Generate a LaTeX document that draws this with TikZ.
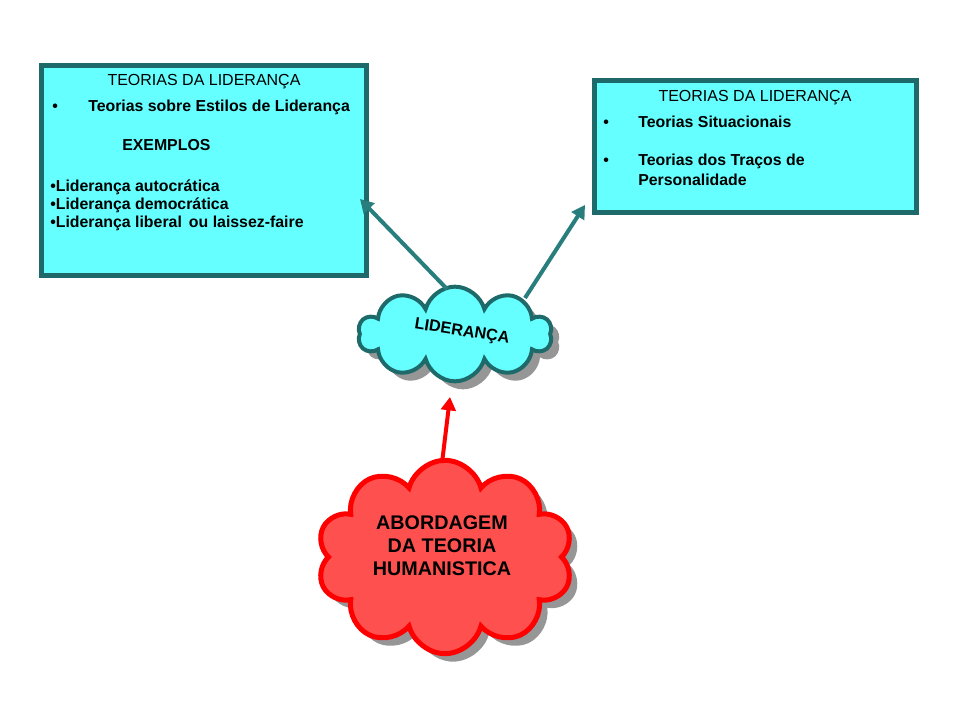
\documentclass[tikz,border=0pt]{standalone}
\usepackage{fontspec}
\setmainfont{Liberation Sans}
\usetikzlibrary{shapes.symbols,shadows,arrows.meta}
\definecolor{tealb}{RGB}{30,105,105}
\definecolor{tealarrow}{RGB}{40,125,125}
\definecolor{cyanfill}{RGB}{102,255,255}
\definecolor{redfill}{RGB}{255,80,80}
\definecolor{redline}{RGB}{255,0,0}
\definecolor{shadowgray}{RGB}{150,150,150}
\tikzset{
  box/.style={draw=tealb, fill=cyanfill, line width=3.75pt, inner sep=0pt},
  ttl/.style={anchor=base, font=\fontsize{12}{14}\selectfont, inner sep=0pt},
  txt/.style={anchor=base west, font=\fontsize{11.9}{14}\selectfont\bfseries, inner sep=0pt},
  tealarr/.style={draw=tealarrow, line width=3pt, -{Triangle[length=10pt,width=11pt]}},
  redarr/.style={draw=redline, line width=3pt, -{Triangle[length=10pt,width=11pt]}},
  cloudshadow/.style={drop shadow={shadow xshift=6pt, shadow yshift=-6pt, fill=shadowgray, opacity=1}},
}
\begin{document}
\begin{tikzpicture}[x=0.75pt,y=-0.75pt]
\useasboundingbox[fill=white] (0,0) rectangle (960,720);

% left box
\node[box, minimum width=243.75pt, minimum height=157.5pt] (lbox) at (204,170.5) {};
\node[ttl] (lt) at (204,86) {TEORIAS DA LIDERANÇA};
\node[txt] (lb1) at (52,112) {•};
\node[txt] (l1) at (88,112) {Teorias sobre Estilos de Liderança};
\node[txt] (lex) at (122,151) {EXEMPLOS};
\node[txt] (l2) at (50,192) {•Liderança autocrática};
\node[txt] (l3) at (50,210) {•Liderança democrática};
\node[txt] (l4) at (50,228) {•Liderança liberal\ \,ou laissez-faire};

% right box
\node[box, minimum width=241.5pt, minimum height=99pt] (rbox) at (755.5,146.5) {};
\node[ttl] (rt) at (755,102) {TEORIAS DA LIDERANÇA};
\node[txt] (rb1) at (603,128) {•};
\node[txt] (r1) at (638,128) {Teorias Situacionais};
\node[txt] (rb2) at (603,166) {•};
\node[txt] (r2) at (638,166) {Teorias dos Traços de};
\node[txt] (r3) at (638,186) {Personalidade};

% liderança cloud
\node[cloud, cloud puffs=10, cloud ignores aspect, draw=tealb, fill=cyanfill,
      line width=3pt, minimum width=145pt, minimum height=71pt, cloudshadow,
      inner sep=0pt] (lid) at (455,334) {};
\node[font=\fontsize{12.2}{14}\selectfont\bfseries, rotate=-9] (lidt) at (462,332) {LIDERANÇA};

% red cloud
\node[cloud, cloud puffs=10, cloud ignores aspect, draw=redline, fill=redfill,
      line width=3.75pt, minimum width=192pt, minimum height=145pt, cloudshadow,
      inner sep=0pt] (abd) at (445,557) {};
\node[font=\fontsize{14.8}{17.2}\selectfont\bfseries, align=center] (abdt) at (442,546)
  {ABORDAGEM\\DA TEORIA\\HUMANISTICA};

% connectors
\coordinate (a1s) at (447,289);
\coordinate (a1e) at (360,199);
\coordinate (a2s) at (525,298);
\coordinate (a2e) at (585,205);
\coordinate (a3s) at (442,463);
\coordinate (a3e) at (450,397);
\draw[tealarr] (a1s) -- (a1e);
\draw[tealarr] (a2s) -- (a2e);
\draw[redarr] (a3s) -- (a3e);
\end{tikzpicture}
\end{document}
